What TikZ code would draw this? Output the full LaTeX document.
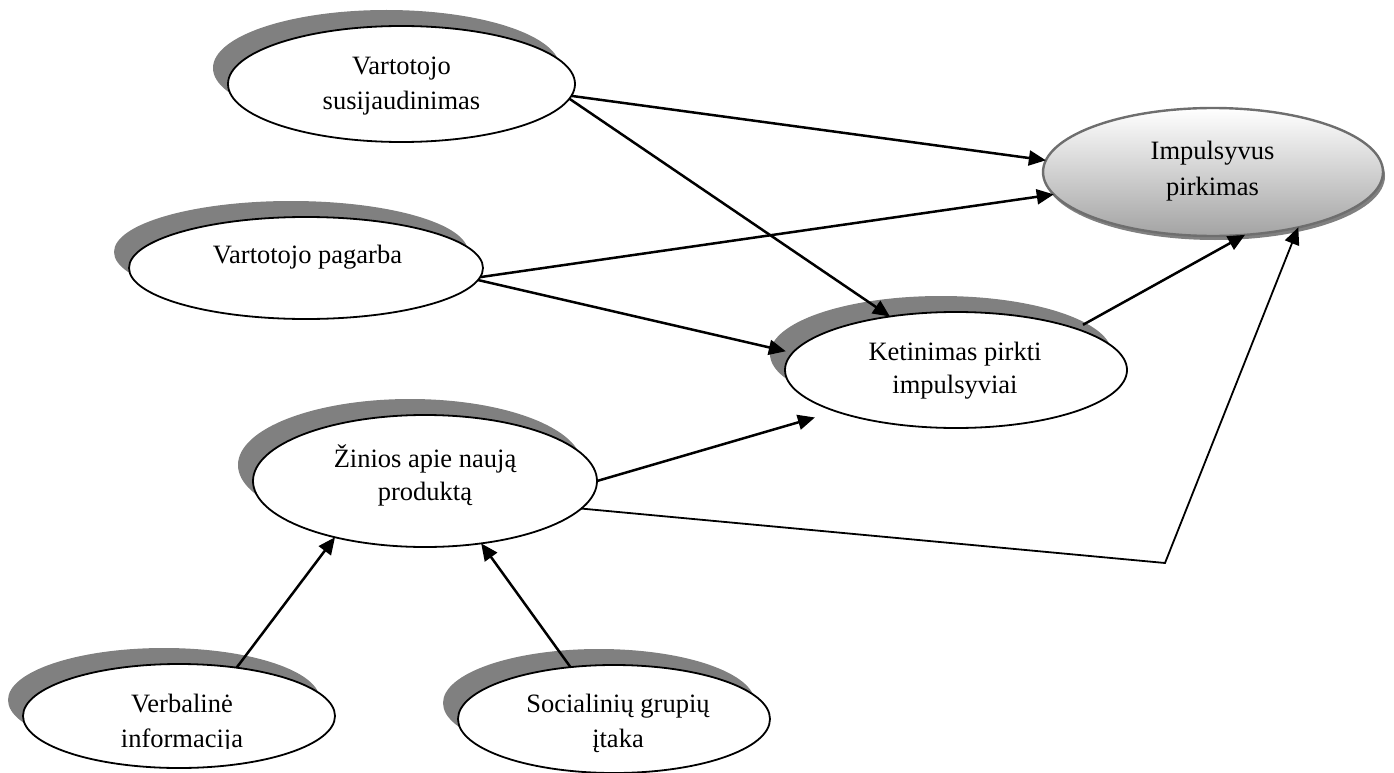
\documentclass[tikz,border=0pt]{standalone}
\usepackage{fontspec}
\setmainfont{Liberation Serif}
\usetikzlibrary{shapes.geometric,arrows.meta,shadows}
\definecolor{shadowgray}{HTML}{808080}
\definecolor{rimgray}{HTML}{6E6E6E}

\begin{document}
\begin{tikzpicture}[x=1pt,y=-1pt,
  oval/.style={ellipse, draw=black, line width=1.8pt, fill=white,
    inner sep=0pt, outer sep=0pt,
    drop shadow={shadow xshift=-15pt, shadow yshift=16pt, opacity=1,
      fill=shadowgray, draw=none}},
  goal/.style={ellipse, draw=rimgray, line width=2.4pt, top color=white,
    bottom color=gray!72, inner sep=0pt, outer sep=0pt,
    drop shadow={shadow xshift=2pt, shadow yshift=-4pt, opacity=1,
      fill=shadowgray, draw=none}},
  lbl/.style={anchor=base, inner sep=0pt, font=\fontsize{26.5}{35}\selectfont},
  link/.style={line width=2.5pt, -{Triangle[length=17pt,width=15pt]}},
]
\useasboundingbox (0,0) rectangle (1394,773);
\clip (0,0) rectangle (1394,773);

% factor ellipses
\node[oval, minimum width=347, minimum height=116] (vs) at (401.5,84) {};
\node[oval, minimum width=354, minimum height=102] (vp) at (306,268) {};
\node[oval, minimum width=342, minimum height=116] (kp) at (956,370) {};
\node[oval, minimum width=344, minimum height=132] (zn) at (425,481) {};
\node[oval, minimum width=312, minimum height=104] (vi) at (179,716) {};
\node[oval, minimum width=312, minimum height=108] (si) at (614,719) {};
% outcome ellipse
\node[goal, minimum width=340, minimum height=128] (ip) at (1213,172) {};

% labels
\node[lbl] (vs-a) at (401.5,75) {Vartotojo};
\node[lbl] (vs-b) at (401.5,110) {susijaudinimas};
\node[lbl] (vp-a) at (307.5,263) {Vartotojo pagarba};
\node[lbl] (ip-a) at (1212.5,160) {Impulsyvus};
\node[lbl] (ip-b) at (1212.5,195) {pirkimas};
\node[lbl] (kp-a) at (955,360) {Ketinimas pirkti};
\node[lbl] (kp-b) at (955,393) {impulsyviai};
\node[lbl] (zn-a) at (425,467) {Žinios apie naują};
\node[lbl] (zn-b) at (425,500) {produktą};
\node[lbl] (vi-a) at (182,712) {Verbalinė};
\begin{scope}
  \clip (0,0) rectangle (1394,748);
  \node[lbl] (vi-b) at (182,747) {informacija};
\end{scope}
\node[lbl] (si-a) at (618,712) {Socialinių grupių};
\node[lbl] (si-b) at (618,747) {įtaka};

% connectors
\coordinate (bend) at (1165,563);
\draw[link] (vs.-4) -- (ip.176);
\draw[link] (vs.-5) -- (kp.141);
\draw[link] (vp.-3) -- (ip.188);
\draw[link, shorten >=7pt] (vp.-4) -- (kp.174);
\draw[link, shorten >=22pt] (zn.0) -- (kp.199);
\draw[link, line width=1.8pt] (zn.-10) -- (bend) -- (ip.-33);
\draw[link, shorten <=8pt] (kp.19) -- (ip.-63);
\draw[link] (vi.40) -- (zn.212);
\draw[link] (si.130) -- (zn.-48);
\end{tikzpicture}
\end{document}
